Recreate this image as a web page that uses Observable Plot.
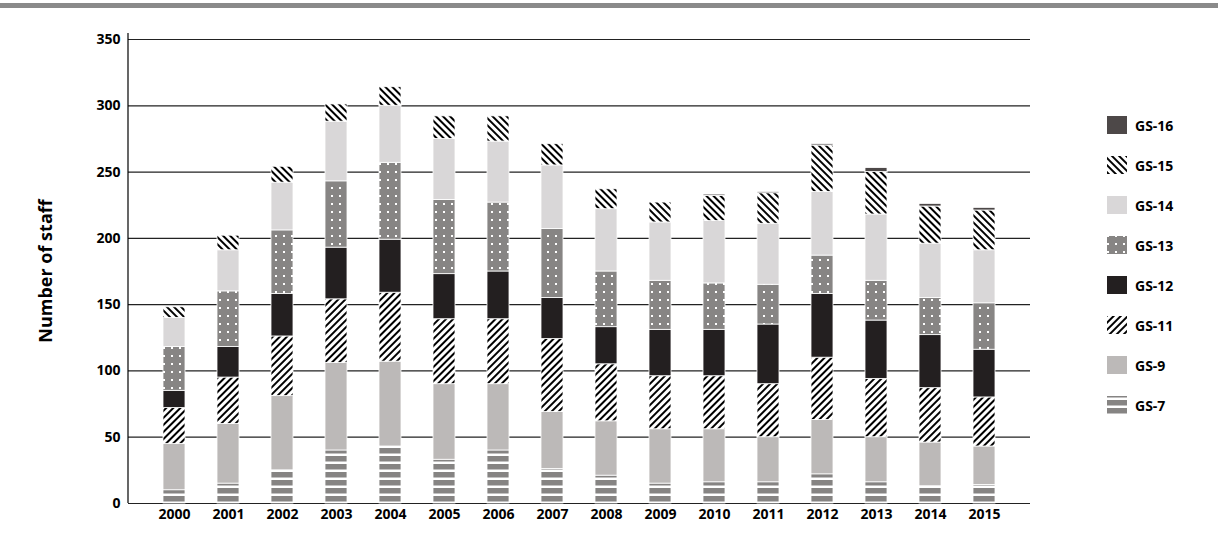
<!DOCTYPE html>
<html><head><meta charset="utf-8">
<script src="https://cdn.jsdelivr.net/npm/d3@7"></script>
<script src="https://cdn.jsdelivr.net/npm/@observablehq/plot@0.6"></script>
<style>body{margin:0;background:#fff;font-family:"Open Sans",Arial,sans-serif}#c{position:relative}</style>
</head><body><div id="c"></div>
<script>
const years = ["2000","2001","2002","2003","2004","2005","2006","2007","2008","2009","2010","2011","2012","2013","2014","2015"];
const grades = ["GS-7","GS-9","GS-11","GS-12","GS-13","GS-14","GS-15","GS-16"];
const gs7  = [10,15,25,40,43,33,40,26,21,15,16,16,22,16,13,14];
const gs9  = [35,45,56,66,64,57,50,43,41,41,40,34,41,34,33,29];
const gs11 = [27,35,45,48,52,49,49,55,43,40,40,40,47,44,41,37];
const gs12 = [13,23,32,39,40,34,36,31,28,35,35,45,48,44,40,36];
const gs13 = [33,42,48,50,58,56,52,52,42,37,35,30,29,30,28,35];
const gs14 = [22,31,36,45,43,46,46,48,47,44,47,46,48,50,41,40];
const gs15 = [8,11,12,13,14,17,19,16,15,15,19,23,35,32,28,30];
const gs16 = [0,0,0,0,0,0,0,0,0,0,1,1,1,3,2,2];
const series = [gs7,gs9,gs11,gs12,gs13,gs14,gs15,gs16];
const data = [];
years.forEach((y,i)=>grades.forEach((g,j)=>data.push({year:y,grade:g,value:series[j][i]})));
const fills = {"GS-7":"url(#p7)","GS-9":"#bcb9b8","GS-11":"url(#p11)","GS-12":"#231f20","GS-13":"url(#p13)","GS-14":"#d9d7d8","GS-15":"url(#p15)","GS-16":"#4d4848"};
const F = "'Open Sans',Arial,sans-serif";
const plot = Plot.plot({
  width:1218, height:541, marginLeft:128, marginRight:188, marginTop:39, marginBottom:38,
  style:{fontFamily:F, fontSize:"14px", fontWeight:"bold", color:"#000"},
  x:{domain:years, padding:0.6, label:null, tickSize:0, tickPadding:6},
  y:{domain:[0,350], ticks:[0,50,100,150,200,250,300,350], label:null, tickSize:0, tickPadding:8},
  marks:[
    Plot.ruleY([0,50,100,150,200,250,300,350],{stroke:"#222",strokeWidth:1.2}),
    Plot.barY(data, Plot.stackY({order:grades, x:"year", y:"value", fill:d=>fills[d.grade], stroke:"#fff", strokeWidth:0.8}))
  ]
});
const svg = d3.select(plot);
svg.append("line").attr("x1",128).attr("x2",128).attr("y1",33).attr("y2",503).attr("stroke","#000").attr("stroke-width",1.2);
const defs = svg.insert("defs",":first-child");
let p = defs.append("pattern").attr("id","p7").attr("patternUnits","userSpaceOnUse").attr("width",8).attr("height",8);
p.append("rect").attr("width",8).attr("height",8).attr("fill","#fff");
p.append("rect").attr("y",0).attr("width",8).attr("height",5.5).attr("fill","#868483");
p = defs.append("pattern").attr("id","p13").attr("patternUnits","userSpaceOnUse").attr("width",8).attr("height",8);
p.append("rect").attr("width",8).attr("height",8).attr("fill","#878584");
p.append("rect").attr("x",3).attr("y",3).attr("width",2).attr("height",2).attr("fill","#fff");
for (const [id,ang] of [["p11",45],["p15",-45]]) {
  p = defs.append("pattern").attr("id",id).attr("patternUnits","userSpaceOnUse").attr("width",5).attr("height",5).attr("patternTransform",`rotate(${ang})`);
  p.append("rect").attr("width",5).attr("height",5).attr("fill","#fff");
  p.append("rect").attr("width",2).attr("height",5).attr("fill","#000");
}
svg.append("rect").attr("x",0).attr("y",3).attr("width",1218).attr("height",5).attr("fill","#8a8a8a");
svg.append("text").attr("transform","translate(52,271) rotate(-90)").attr("text-anchor","middle").attr("font-size",18).attr("font-weight","bold").attr("fill","#000").text("Number of staff");
const lg = grades.slice().reverse();
lg.forEach((g,i)=>{
  const y = 116 + i*40;
  svg.append("rect").attr("x",1107).attr("y",y).attr("width",20).attr("height",18).attr("fill",fills[g]);
  svg.append("text").attr("x",1135).attr("y",y+15).attr("text-anchor","start").attr("font-size",14).attr("font-weight","bold").attr("fill","#000").text(g);
});
document.getElementById("c").append(plot);
</script></body></html>
